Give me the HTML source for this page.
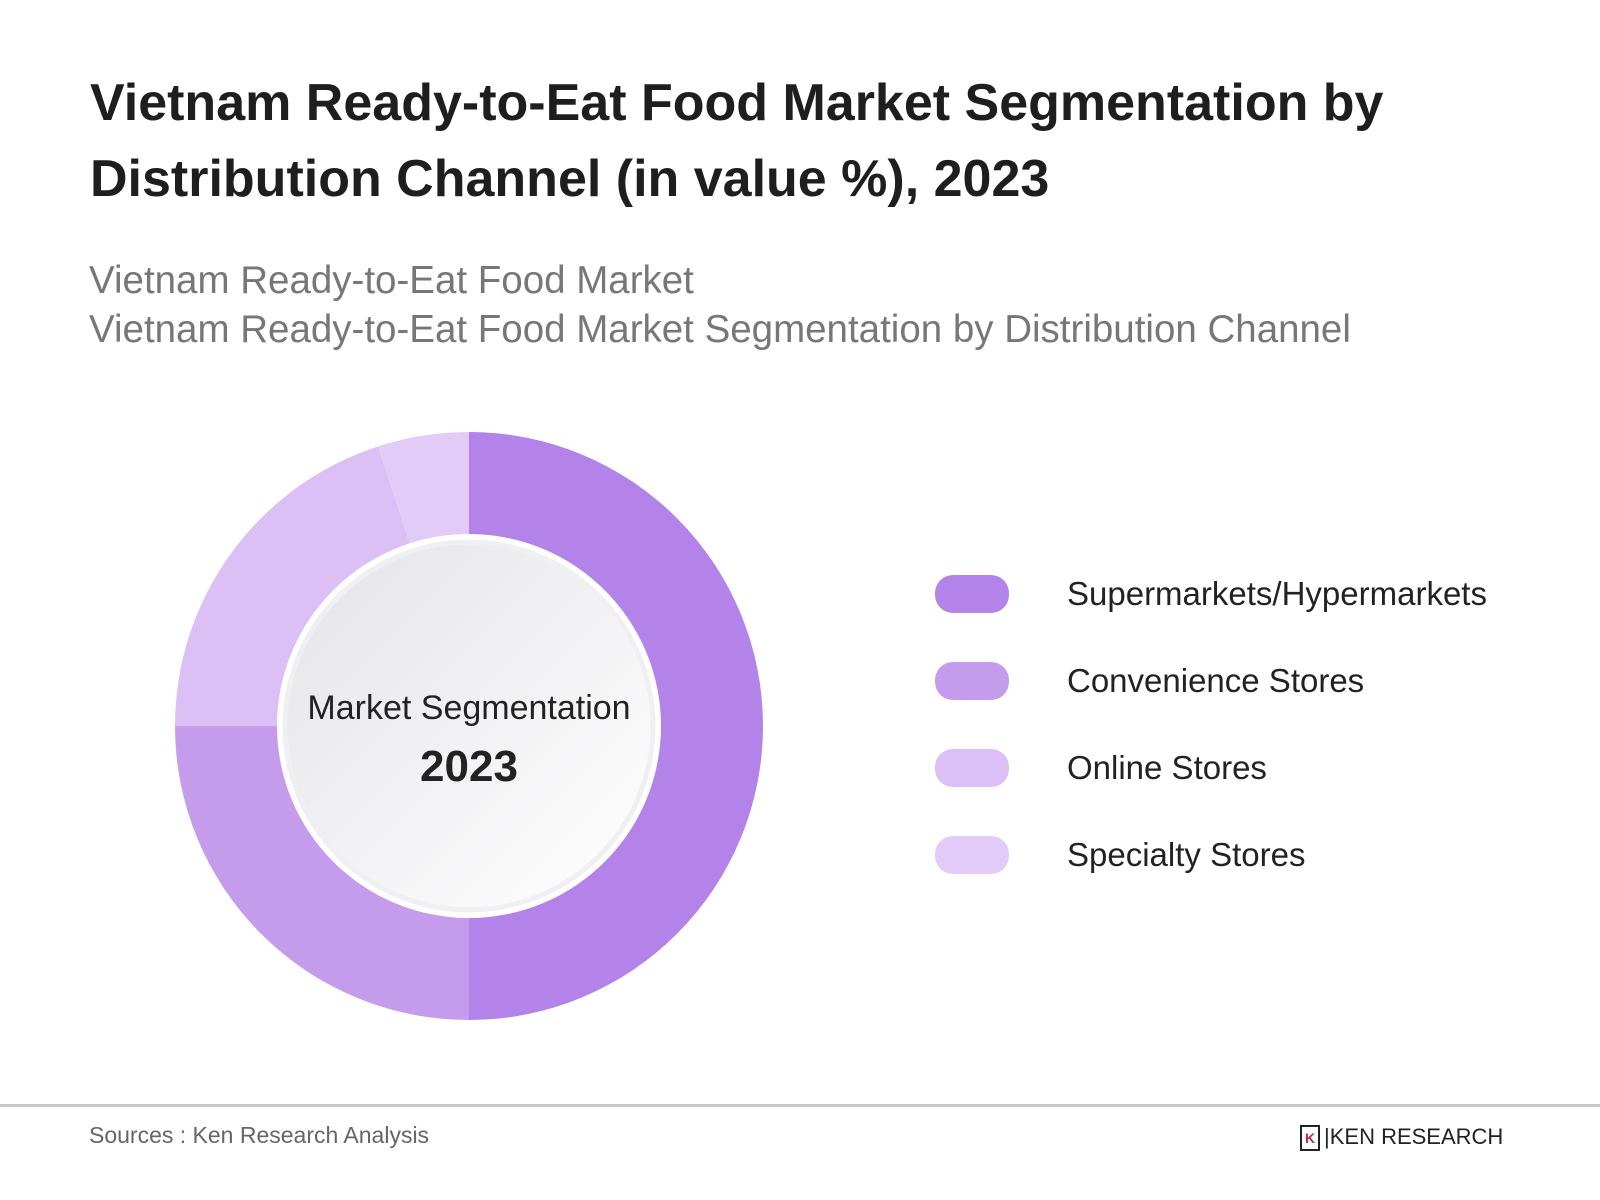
<!DOCTYPE html>
<html><head><meta charset="utf-8"><style>
body{margin:0;width:1600px;height:1200px;background:#fff;font-family:"Liberation Sans",sans-serif;position:relative;overflow:hidden}
.t{position:absolute;white-space:nowrap}
</style></head><body>
<div class="t" style="left:90px;top:65px;font-size:52px;font-weight:bold;color:#1e1e1e;line-height:76px">Vietnam Ready-to-Eat Food Market Segmentation by<br>Distribution Channel (in value %), 2023</div>
<div class="t" style="left:89px;top:256px;font-size:38.5px;color:#777;line-height:49px">Vietnam Ready-to-Eat Food Market<br>Vietnam Ready-to-Eat Food Market Segmentation by Distribution Channel</div>
<svg id="chart" width="1600" height="1200" style="position:absolute;left:0;top:0">
<defs><linearGradient id="g" x1="0" y1="0" x2="1" y2="1"><stop offset="0" stop-color="#e4e4e8"/><stop offset="1" stop-color="#ffffff"/></linearGradient></defs>
<g id="slices"></g>
<circle cx="469" cy="726" r="184" fill="url(#g)" stroke="#f0f0f3" stroke-width="5"/>
<text x="469" y="719" text-anchor="middle" font-size="34" fill="#222" font-family="Liberation Sans, sans-serif">Market Segmentation</text>
<text x="469" y="781" text-anchor="middle" font-size="44" font-weight="bold" fill="#222" font-family="Liberation Sans, sans-serif">2023</text>
<g id="legend"></g>
</svg>
<div style="position:absolute;left:0;top:1104px;width:1600px;height:3px;background:#c8c8c8"></div>
<div class="t" style="left:89px;top:1122px;font-size:23px;color:#666">Sources : Ken Research Analysis</div>
<div class="t" style="left:1300px;top:1124px;font-size:22px;color:#222;letter-spacing:0px;transform:scaleX(1.0);transform-origin:left"><span style="display:inline-block;width:16px;height:22px;border:2px solid #222;vertical-align:middle;margin-right:4px;font-size:14px;line-height:22px;text-align:center;color:#b03040;font-weight:bold">K</span>|KEN RESEARCH</div>
<script>
const categories=["Supermarkets/Hypermarkets","Convenience Stores","Online Stores","Specialty Stores"];
const values=[50,25,20,5];
const colors=["#b383e9","#c59bec","#dbbff5","#e2ccf7"];
const NS="http://www.w3.org/2000/svg";
const cx=469,cy=726,R=294,r=192;
const total=values.reduce((a,b)=>a+b,0);
function pt(a,rad){return [cx+rad*Math.sin(a),cy-rad*Math.cos(a)];}
let a0=0;const sl=document.getElementById('slices');
values.forEach((v,i)=>{
 const a1=a0+v/total*2*Math.PI;const lg=(a1-a0)>Math.PI?1:0;
 const [x0,y0]=pt(a0,R),[x1,y1]=pt(a1,R),[x2,y2]=pt(a1,r),[x3,y3]=pt(a0,r);
 const p=document.createElementNS(NS,'path');
 p.setAttribute('d',`M${x0},${y0}A${R},${R} 0 ${lg} 1 ${x1},${y1}L${x2},${y2}A${r},${r} 0 ${lg} 0 ${x3},${y3}Z`);
 p.setAttribute('fill',colors[i]);
 
 
 sl.appendChild(p);a0=a1;
});
const lg=document.getElementById('legend');
categories.forEach((c,i)=>{
 const y=594+i*87;
 const g=document.createElementNS(NS,'g');
 
 
 const s=document.createElementNS(NS,'rect');
 s.setAttribute('x',935);s.setAttribute('y',y-19);s.setAttribute('width',74);s.setAttribute('height',38);s.setAttribute('rx',18);s.setAttribute('fill',colors[i]);
 
 
 const t=document.createElementNS(NS,'text');
 t.setAttribute('x',1067);t.setAttribute('y',y+11);t.setAttribute('font-size','33');t.setAttribute('fill','#222');t.setAttribute('font-family','Liberation Sans, sans-serif');
 t.textContent=c;
 
 
 g.appendChild(s);g.appendChild(t);lg.appendChild(g);
});
</script>
</body></html>
